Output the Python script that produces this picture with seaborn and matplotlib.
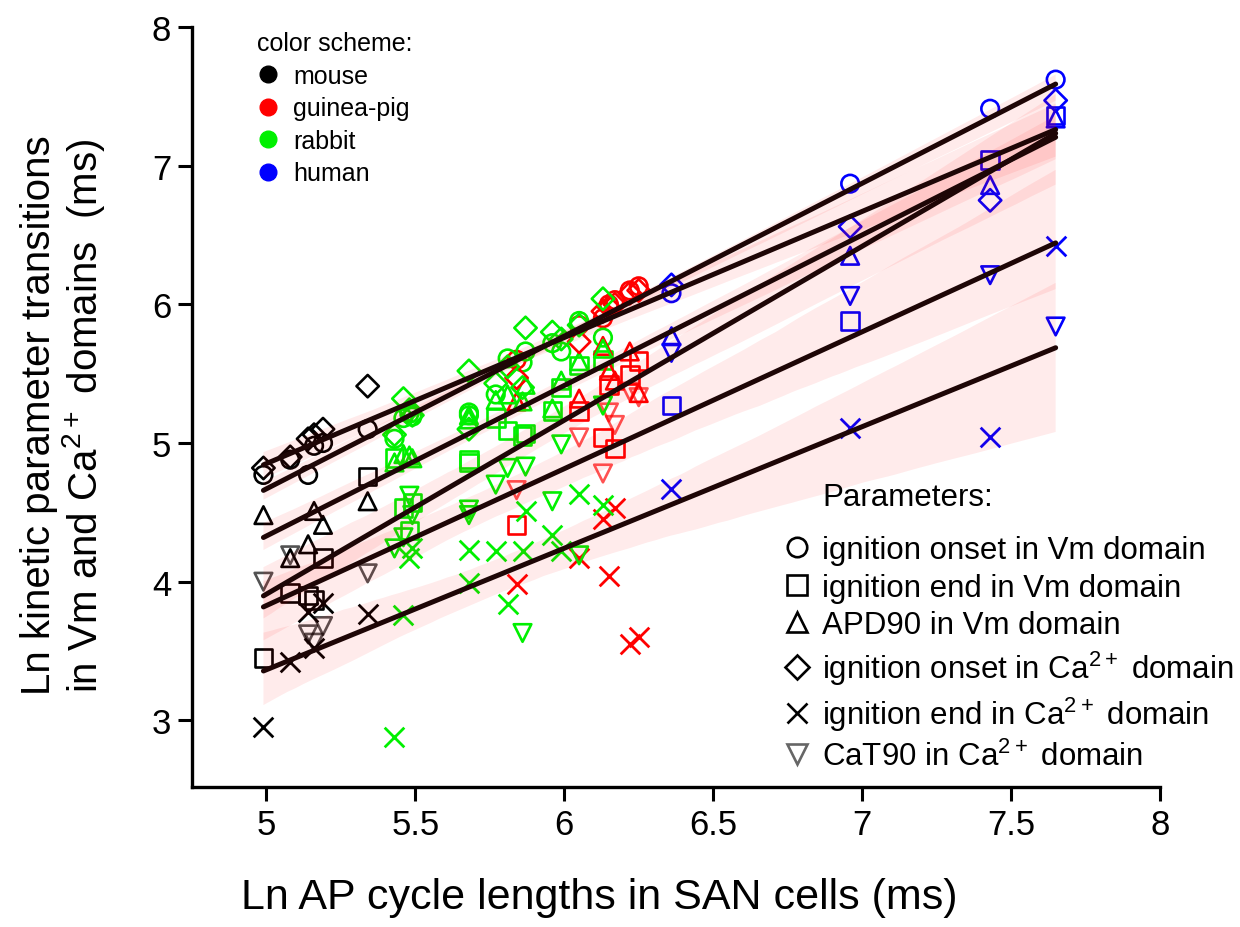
import numpy as np
import pandas as pd
import matplotlib
matplotlib.use("Agg")
import matplotlib.pyplot as plt
from matplotlib.lines import Line2D
import seaborn as sns

# ---------------- data ----------------
species_of_cell = (["mouse"] * 6 + ["rabbit"] * 14 + ["guinea-pig"] * 7 + ["human"] * 4)

cycle_len = [4.99, 5.08, 5.14, 5.16, 5.19, 5.34,
             5.43, 5.46, 5.48, 5.49, 5.68, 5.68, 5.77, 5.81, 5.87, 5.86, 5.96, 5.99, 6.05, 6.13,
             5.84, 6.05, 6.13, 6.15, 6.17, 6.22, 6.25,
             6.36, 6.96, 7.43, 7.65]

ign_onset_vm = [4.77, 4.88, 4.77, 4.98, 5.00, 5.10,
                5.03, 5.18, 5.21, 5.19, 5.22, 5.20, 5.35, 5.61, 5.66, 5.58, 5.72, 5.66, 5.88, 5.76,
                5.60, 5.85, 5.90, 6.00, 6.03, 6.10, 6.13,
                6.08, 6.87, 7.41, 7.62]

ign_end_vm = [3.45, 3.92, 3.90, 3.87, 4.17, 4.76,
              4.89, 4.53, 4.37, 4.57, 4.88, 4.86, 5.18, 5.09, 5.07, 5.05, 5.23, 5.40, 5.56, 5.60,
              4.41, 5.23, 5.04, 5.42, 4.96, 5.49, 5.59,
              5.27, 5.88, 7.04, 7.36]

apd90_vm = [4.48, 4.17, 4.27, 4.51, 4.41, 4.58,
            4.86, 4.92, 4.91, 4.89, 5.20, 5.17, 5.31, 5.35, 5.42, 5.30, 5.25, 5.45, 5.59, 5.68,
            5.30, 5.32, 5.70, 5.52, 5.45, 5.66, 5.36,
            5.77, 6.35, 6.86, 7.34]

ign_onset_ca = [4.82, 4.90, 5.03, 5.06, 5.10, 5.41,
                5.06, 5.32, 5.24, 5.20, 5.52, 5.10, 5.43, 5.55, 5.83, 5.40, 5.80, 5.75, 5.85, 6.04,
                5.47, 5.73, 5.95, 5.98, 6.00, 6.08, 6.10,
                6.14, 6.56, 6.75, 7.47]

ign_end_ca = [2.95, 3.42, 3.78, 3.52, 3.85, 3.77,
              2.88, 3.76, 4.17, 4.24, 4.23, 3.99, 4.22, 3.84, 4.51, 4.22, 4.34, 4.22, 4.63, 4.55,
              3.98, 4.17, 4.45, 4.04, 4.53, 3.55, 3.60,
              4.67, 5.11, 5.04, 6.42]

cat90_ca = [4.00, 4.19, 3.62, 3.56, 3.68, 4.06,
            4.24, 4.32, 4.62, 4.48, 4.52, 4.48, 4.70, 4.82, 4.83, 3.63, 4.58, 4.99, 4.19, 5.27,
            4.66, 5.04, 4.78, 5.22, 5.13, 5.37, 5.33,
            5.65, 6.06, 6.21, 5.84]

species_names = ["mouse", "guinea-pig", "rabbit", "human"]
species_colors = ["#000000", "#ff0000", "#00f000", "#0000ff"]

param_labels = ["ignition onset in Vm domain", "ignition end in Vm domain", "APD90 in Vm domain",
                "ignition onset in Ca$^{2+}$ domain", "ignition end in Ca$^{2+}$ domain",
                "CaT90 in Ca$^{2+}$ domain"]
param_markers = ["o", "s", "^", "D", "x", "v"]

# ---------------- style ----------------
sns.set_style("ticks")
plt.rcParams["font.family"] = ["Liberation Sans", "DejaVu Sans"]
plt.rcParams["mathtext.default"] = "regular"
for key in ["text.color", "axes.labelcolor", "xtick.color", "ytick.color", "axes.edgecolor"]:
    plt.rcParams[key] = "black"

fig = plt.figure(figsize=(12.4, 9.28), dpi=100)
ax = fig.add_axes([0.1548, 0.1509, 0.7806, 0.819])

series = [ign_onset_vm, ign_end_vm, apd90_vm, ign_onset_ca, ign_end_ca, cat90_ca]
frames = []
for lab, vals in zip(param_labels, series):
    frames.append(pd.DataFrame({"cl": cycle_len, "val": vals, "species": species_of_cell, "param": lab}))
df = pd.concat(frames, ignore_index=True)

pal = dict(zip(species_names, species_colors))
mk = dict(zip(param_labels, param_markers))

# scatter (hollow markers)
for lab in param_labels:
    for sp in species_names:
        sub = df[(df.param == lab) & (df.species == sp)]
        alpha = 0.68 if (lab.startswith("CaT90") and sp in ("mouse", "guinea-pig")) else 1.0
        if mk[lab] == "x":
            sns.scatterplot(data=sub, x="cl", y="val", ax=ax, marker="x", color=pal[sp],
                            s=200, linewidth=2.0, alpha=alpha, legend=False)
        else:
            sns.scatterplot(data=sub, x="cl", y="val", ax=ax, marker=mk[lab],
                            facecolor="none", edgecolor=pal[sp], color=pal[sp],
                            s=160 if mk[lab] != "D" else 130, linewidth=1.9, alpha=alpha, legend=False)

# regression lines with confidence bands
for lab in param_labels:
    sub = df[df.param == lab]
    n_before = len(ax.collections)
    sns.regplot(data=sub, x="cl", y="val", ax=ax, scatter=False, ci=95, seed=3,
                color="#1e0606", line_kws=dict(lw=3.6, solid_capstyle="round"), truncate=True)
    for coll in ax.collections[n_before:]:
        coll.set_facecolor("#ff0000")
        coll.set_edgecolor("none")
        coll.set_alpha(0.08)

# axes
ax.set_xlim(4.75, 8.0)
ax.set_ylim(2.52, 8.0)
ax.set_xticks([5, 5.5, 6, 6.5, 7, 7.5, 8])
ax.set_xticklabels(["5", "5.5", "6", "6.5", "7", "7.5", "8"])
ax.set_yticks([3, 4, 5, 6, 7, 8])
ax.tick_params(axis="both", direction="out", length=10, width=2.2, labelsize=25, pad=5,
               color="black", labelcolor="black")
for s in ["left", "bottom"]:
    ax.spines[s].set_linewidth(2.4)
    ax.spines[s].set_color("black")
for s in ["top", "right"]:
    ax.spines[s].set_visible(False)

ax.set_xlabel("Ln AP cycle lengths in SAN cells (ms)", fontsize=31, color="black")
ax.xaxis.set_label_coords(0.421, -0.145)
ax.xaxis.label.set_va("center")
ax.set_ylabel("Ln kinetic parameter transitions\nin Vm and Ca$^{2+}$ domains  (ms)", fontsize=29,
              linespacing=1.05, color="black")
ax.yaxis.set_label_coords(-0.133, 0.49)
ax.yaxis.label.set_va("center")

# legend: colour scheme
sp_handles = [Line2D([], [], marker="o", ls="none", color=c, markersize=12) for c in species_colors]
leg1 = ax.legend(sp_handles, species_names, title="color scheme:", loc="upper left",
                 bbox_to_anchor=(0.067, 0.994), frameon=False, fontsize=18, title_fontsize=18,
                 handletextpad=0.55, labelspacing=0.34, alignment="left", borderaxespad=0,
                 borderpad=0, handlelength=0.9, labelcolor="black")
leg1.get_title().set_color("black")
ax.add_artist(leg1)

# legend: parameters
par_handles = []
for m in param_markers:
    col = "#666666" if m == "v" else "black"
    if m == "x":
        par_handles.append(Line2D([], [], marker=m, ls="none", color=col, markersize=15, mew=1.9))
    else:
        par_handles.append(Line2D([], [], marker=m, ls="none", markerfacecolor="none",
                                  markeredgecolor=col, markersize=14 if m != "D" else 12, mew=1.9))
leg2 = ax.legend(par_handles, param_labels, loc="lower left", bbox_to_anchor=(0.609, 0.02),
                 frameon=False, fontsize=22.5, handletextpad=0.3, labelspacing=0.25,
                 borderaxespad=0, borderpad=0, handlelength=1.0, labelcolor="black")
ax.text(0.651, 0.382, "Parameters:", transform=ax.transAxes, fontsize=22.5, va="center", ha="left",
        color="black")

fig.savefig("out.png", dpi=100)
